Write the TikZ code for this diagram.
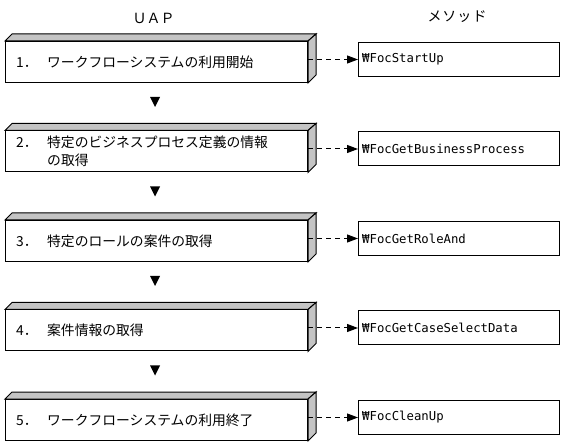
\documentclass[tikz,border=0pt]{standalone}
\usepackage{fontspec}
\newfontfamily\jp{Noto Sans CJK JP}
\newfontfamily\mono{DejaVu Sans Mono}
\usetikzlibrary{arrows.meta}
\definecolor{facegray}{RGB}{196,196,196}
\tikzset{
  front/.style={draw, line width=1pt, fill=white, minimum width=302pt, minimum height=41pt, anchor=north west, inner sep=0pt},
  face/.style={draw, line width=1pt, fill=facegray, line join=miter},
  steptext/.style={anchor=west, font=\jp\fontsize{13.8}{18}\selectfont, align=left, inner sep=0pt},
  methodbox/.style={draw, line width=1pt, minimum width=201pt, minimum height=34pt, anchor=north west, inner sep=0pt},
  methodtext/.style={anchor=west, font=\mono\fontsize{12.3}{14}\selectfont, inner sep=0pt},
  call/.style={line width=1pt, dash pattern=on 5pt off 4pt, -{Triangle[length=11pt,width=8pt]}},
  header/.style={font=\jp\fontsize{14}{16}\selectfont, inner sep=0pt},
  nextmark/.style={fill=black}
}
\newcommand{\stepnum}[1]{\makebox[31pt][l]{#1}}
\newcommand{\solid}[1]{%
  \draw[face] (#1.north west) -- ++(7,-7) -- ([xshift=8pt,yshift=7pt]#1.north east) -- (#1.north east) -- cycle;
  \draw[face] (#1.north east) -- ++(8,-7) -- ++(0,41) -- (#1.south east) -- cycle;}
\begin{document}
\begin{tikzpicture}[x=1pt,y=-1pt]
\useasboundingbox (0,0) rectangle (562,443);

\node[header] (uap) at (153.5,18) {ＵＡＰ};
\node[header] (meth) at (457,17) {メ\hspace{1pt}ソ\hspace{1pt}ッ\hspace{1pt}ド};

% left step boxes
\node[front] (f1) at (5,41) {};
\node[front] (f2) at (5,130.5) {};
\node[front] (f3) at (5,220) {};
\node[front] (f4) at (5,309.5) {};
\node[front] (f5) at (5,399) {};
\solid{f1}\solid{f2}\solid{f3}\solid{f4}\solid{f5}

\node[steptext] (t1) at ([xshift=11pt]f1.west) {\stepnum{1．}ワークフローシステムの利用開始};
\node[steptext] (t2) at ([xshift=11pt]f2.west) {\stepnum{2．}特定のビジネスプロセス定義の情報\\\hspace*{31pt}の取得};
\node[steptext] (t3) at ([xshift=11pt]f3.west) {\stepnum{3．}特定のロールの案件の取得};
\node[steptext] (t4) at ([xshift=11pt]f4.west) {\stepnum{4．}案件情報の取得};
\node[steptext] (t5) at ([xshift=11pt]f5.west) {\stepnum{5．}ワークフローシステムの利用終了};

% method boxes
\node[methodbox] (m1) at (358,42) {};
\node[methodbox] (m2) at (358,131.5) {};
\node[methodbox] (m3) at (358,221) {};
\node[methodbox] (m4) at (358,310.5) {};
\node[methodbox] (m5) at (358,400) {};
\node[methodtext] (n1) at ([xshift=4pt]m1.west) {₩FocStartUp};
\node[methodtext] (n2) at ([xshift=4pt]m2.west) {₩FocGetBusinessProcess};
\node[methodtext] (n3) at ([xshift=4pt]m3.west) {₩FocGetRoleAnd};
\node[methodtext] (n4) at ([xshift=4pt]m4.west) {₩FocGetCaseSelectData};
\node[methodtext] (n5) at ([xshift=4pt]m5.west) {₩FocCleanUp};

% dashed calls
\foreach \i in {1,...,5}{
  \draw[call] (f\i.east |- m\i.west) -- (m\i.west);
}

% down markers
\foreach \y in {102,191.5,281,370.5}{
  \coordinate (d) at (155,\y);
  \fill[nextmark] ([shift={(-5,-5)}]d) -- ([shift={(5,-5)}]d) -- ([shift={(0,5)}]d) -- cycle;
}
\end{tikzpicture}
\end{document}
